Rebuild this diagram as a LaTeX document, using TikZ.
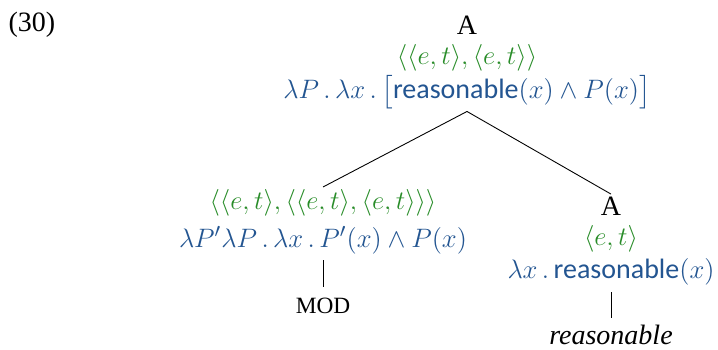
\documentclass[tikz,border=0pt]{standalone}
\usepackage{amsmath,amssymb}
\usepackage{fontspec}
\setmainfont{Liberation Serif}
\setsansfont{Carlito}
\usepackage{tikz}
\usepackage{xcolor}
\definecolor{tyGreen}{RGB}{40,140,40}
\definecolor{semBlue}{RGB}{35,85,145}
\tikzset{
    lab/.style={inner sep=1pt, font=\fontsize{12.6}{15}\selectfont},
    ty/.style={lab, text=tyGreen},
    sem/.style={lab, text=semBlue}
}

\begin{document}
\begin{tikzpicture}[x=0.45pt,y=-0.45pt]
                \useasboundingbox (0,0) rectangle (718,350);
                \node[lab,anchor=west] (exnum) at (6,25) {(30)};
                % mother node
                \node[lab] (rootcat) at (467,25) {A};
                \node[ty] (rootty) at (467,58) {$\langle\langle e,t\rangle,\langle e,t\rangle\rangle$};
                \node[sem] (rootsem) at (467,92) {$\lambda P\,.\,\lambda x\,.\,\big[\textsf{reasonable}(x)\wedge P(x)\big]$};
                % left daughter
                \node[ty] (modty) at (323,203) {$\langle\langle e,t\rangle,\langle\langle e,t\rangle,\langle e,t\rangle\rangle\rangle$};
                \node[sem] (modsem) at (323,240) {$\lambda P'\lambda P\,.\,\lambda x\,.\,P'(x)\wedge P(x)$};
                \node[lab,font=\fontsize{10.5}{12}\selectfont] (mod) at (323,306) {MOD};
                % right daughter
                \node[lab] (adjcat) at (611,206) {A};
                \node[ty] (adjty) at (611,239) {$\langle e,t\rangle$};
                \node[sem] (adjsem) at (611,272) {$\lambda x\,.\,\textsf{reasonable}(x)$};
                \node[lab] (word) at (611,335) {\textit{reasonable}};
                % branches
                \draw (rootsem.south) -- (modty.north);
                \draw (rootsem.south) -- (adjcat.north);
                \draw (modsem.south) ++(0,4) -- ([yshift=4pt]mod.north);
                \draw (adjsem.south) ++(0,4) -- ([yshift=2pt]word.north);
            \end{tikzpicture}
\end{document}
